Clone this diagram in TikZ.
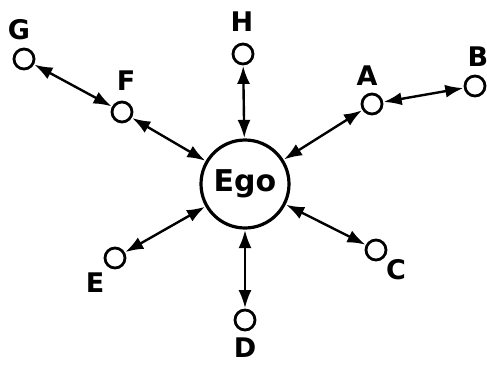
\documentclass[tikz,border=0pt]{standalone}
\usepackage{fontspec}
\setmainfont{DejaVu Sans}
\usetikzlibrary{arrows.meta}
\begin{document}
\begin{tikzpicture}[x=1pt,y=-1pt,
  dot/.style={circle,draw,line width=2.8pt,minimum size=20pt,inner sep=0pt},
  ego/.style={circle,draw,line width=3.2pt,minimum size=88pt,inner sep=0pt,font=\fontsize{30}{30}\selectfont\bfseries},
  lab/.style={font=\fontsize{27}{27}\selectfont\bfseries,inner sep=0pt},
  link/.style={line width=2.4pt,{Latex[length=18pt,width=13pt]}-{Latex[length=18pt,width=13pt]},shorten <=0.5pt,shorten >=0.5pt}]
\useasboundingbox (0,0) rectangle (487,365);
\node[ego] (ego) at (245,184) {Ego};
\node[dot] (g) at (24,59) {};
\node[dot] (f) at (122,112) {};
\node[dot] (h) at (243,54) {};
\node[dot] (a) at (372,104) {};
\node[dot] (b) at (475,86) {};
\node[dot] (e) at (115,258) {};
\node[dot] (d) at (245,320) {};
\node[dot] (c) at (376,250) {};
\node[lab] (lg) at (19,30) {G};
\node[lab] (lf) at (126,81) {F};
\node[lab] (lh) at (242,22) {H};
\node[lab] (la) at (367,76) {A};
\node[lab] (lb) at (478,57) {B};
\node[lab] (le) at (95,283) {E};
\node[lab] (ld) at (245,348) {D};
\node[lab] (lc) at (396,270) {C};
\draw[link] (g) -- (f);
\draw[link] (f) -- (ego);
\draw[link] (h) -- (ego);
\draw[link] (a) -- (ego);
\draw[link] (b) -- (a);
\draw[link] (c) -- (ego);
\draw[link] (d) -- (ego);
\draw[link] (e) -- (ego);
\end{tikzpicture}
\end{document}
